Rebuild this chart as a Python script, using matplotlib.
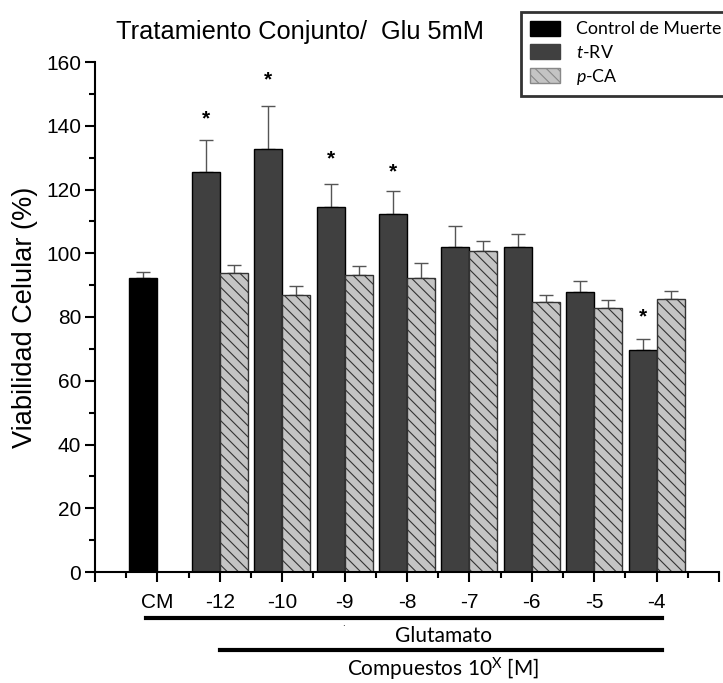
import matplotlib.pyplot as plt
from matplotlib.patches import Patch
from matplotlib.ticker import MultipleLocator
import numpy as np

plt.rcParams['font.family'] = ['Liberation Sans', 'DejaVu Sans']
plt.rcParams['hatch.color'] = '#555555'
plt.rcParams['hatch.linewidth'] = 0.8
plt.rcParams['mathtext.fontset'] = 'custom'
plt.rcParams['mathtext.rm'] = 'Lato'
plt.rcParams['mathtext.it'] = 'Lato:italic'

# data
groups = ['-12', '-10', '-9', '-8', '-7', '-6', '-5', '-4']
cm_mean = 92.3
cm_err = 1.7
trv_mean = [125.5, 132.8, 114.6, 112.2, 102.1, 102.1, 87.8, 69.5]
trv_err = [10.1, 13.3, 7.1, 7.2, 6.3, 3.8, 3.4, 3.5]
pca_mean = [93.7, 86.8, 93.1, 92.3, 100.7, 84.7, 82.9, 85.6]
pca_err = [2.7, 2.9, 2.8, 4.5, 3.1, 2.1, 2.3, 2.5]
star_idx = [0, 1, 2, 3, 7]          # groups marked with *
star_y = [142.0, 154.5, 129.5, 125.5, 80.0]

fig = plt.figure(figsize=(7.23, 6.83), dpi=100)
ax = fig.add_axes([95/723, 1 - 572/683, (719 - 95)/723, (572 - 62)/683])

w = 0.45
pos = np.arange(1, len(groups) + 1)

# control bar
ax.bar(0 - w/2, cm_mean, w, color='black', edgecolor='black', lw=1, zorder=2)
ax.errorbar(0 - w/2, cm_mean, yerr=[[0], [cm_err]], fmt='none', ecolor='#555555',
            elinewidth=1, capsize=5, capthick=1, zorder=1)

# t-RV bars
ax.bar(pos - w/2, trv_mean, w, color='#404040', edgecolor='black', lw=1, zorder=2)
ax.errorbar(pos - w/2, trv_mean, yerr=[np.zeros(len(groups)), trv_err], fmt='none',
            ecolor='#555555', elinewidth=1, capsize=5, capthick=1, zorder=1)

# p-CA bars
ax.bar(pos + w/2, pca_mean, w, color='#c4c4c4', edgecolor='#333333', lw=1,
       hatch='\\\\\\', zorder=2)
ax.errorbar(pos + w/2, pca_mean, yerr=[np.zeros(len(groups)), pca_err], fmt='none',
            ecolor='#555555', elinewidth=1, capsize=5, capthick=1, zorder=1)

for i, y in zip(star_idx, star_y):
    ax.text(pos[i] - w/2, y, '*', ha='center', va='center', fontsize=15,
            fontweight='bold')

ax.set_xlim(-1, 9)
ax.set_ylim(0, 160)
ax.yaxis.set_major_locator(MultipleLocator(20))
ax.yaxis.set_minor_locator(MultipleLocator(10))
ax.set_xticks(np.arange(-1, 10))
ax.set_xticklabels([''] + ['CM'] + groups + [''])
ax.xaxis.set_minor_locator(MultipleLocator(0.5))

for s in ['top', 'right']:
    ax.spines[s].set_visible(False)
for s in ['left', 'bottom']:
    ax.spines[s].set_linewidth(1.5)
ax.tick_params(which='major', direction='out', length=7, width=1.5, labelsize=15)
ax.tick_params(which='minor', direction='out', length=4, width=1.5)
ax.tick_params(axis='x', pad=8)
ax.tick_params(axis='y', pad=3)

ax.set_ylabel('Viabilidad Celular (%)', fontsize=19.5, labelpad=6)
fig.text(300/723, 1 - 32/683, 'Tratamiento Conjunto/  Glu 5mM', ha='center',
         va='center', fontsize=18.3)

# brackets below the axis
lbl_font = ['Lato', 'DejaVu Sans']
ax.plot([-0.18, 8.08], [-14.3, -14.3], color='black', lw=3, clip_on=False)
ax.plot([1.0, 8.08], [-24.5, -24.5], color='black', lw=3, clip_on=False)
ax.text(4.58, -20.0, 'Glutamato', ha='center', va='center', fontsize=15,
        family=lbl_font)
ax.text(4.58, -30.6, 'Compuestos 10$^{\\mathregular{X}}$ [M]', ha='center',
        va='center', fontsize=15, family=lbl_font)
ax.text(2.98, -16.0, '.', ha='center', va='center', fontsize=7)

handles = [Patch(facecolor='black', edgecolor='black'),
           Patch(facecolor='#404040', edgecolor='#404040'),
           Patch(facecolor='#c4c4c4', edgecolor='#888888', hatch='\\\\\\')]
labels = ['Control de Muerte', '$\\it{t}$-RV', '$\\it{p}$-CA']
leg = fig.legend(handles, labels, loc='upper left',
                 bbox_to_anchor=(521/723, 1 - 12/683), borderaxespad=0,
                 frameon=True, fancybox=False, edgecolor='black',
                 borderpad=0.5, handlelength=1.7, handleheight=0.9,
                 labelspacing=0.35, handletextpad=0.9,
                 prop={'family': lbl_font, 'size': 12.8})
leg.get_frame().set_linewidth(2)

fig.savefig('out.png', dpi=100)
